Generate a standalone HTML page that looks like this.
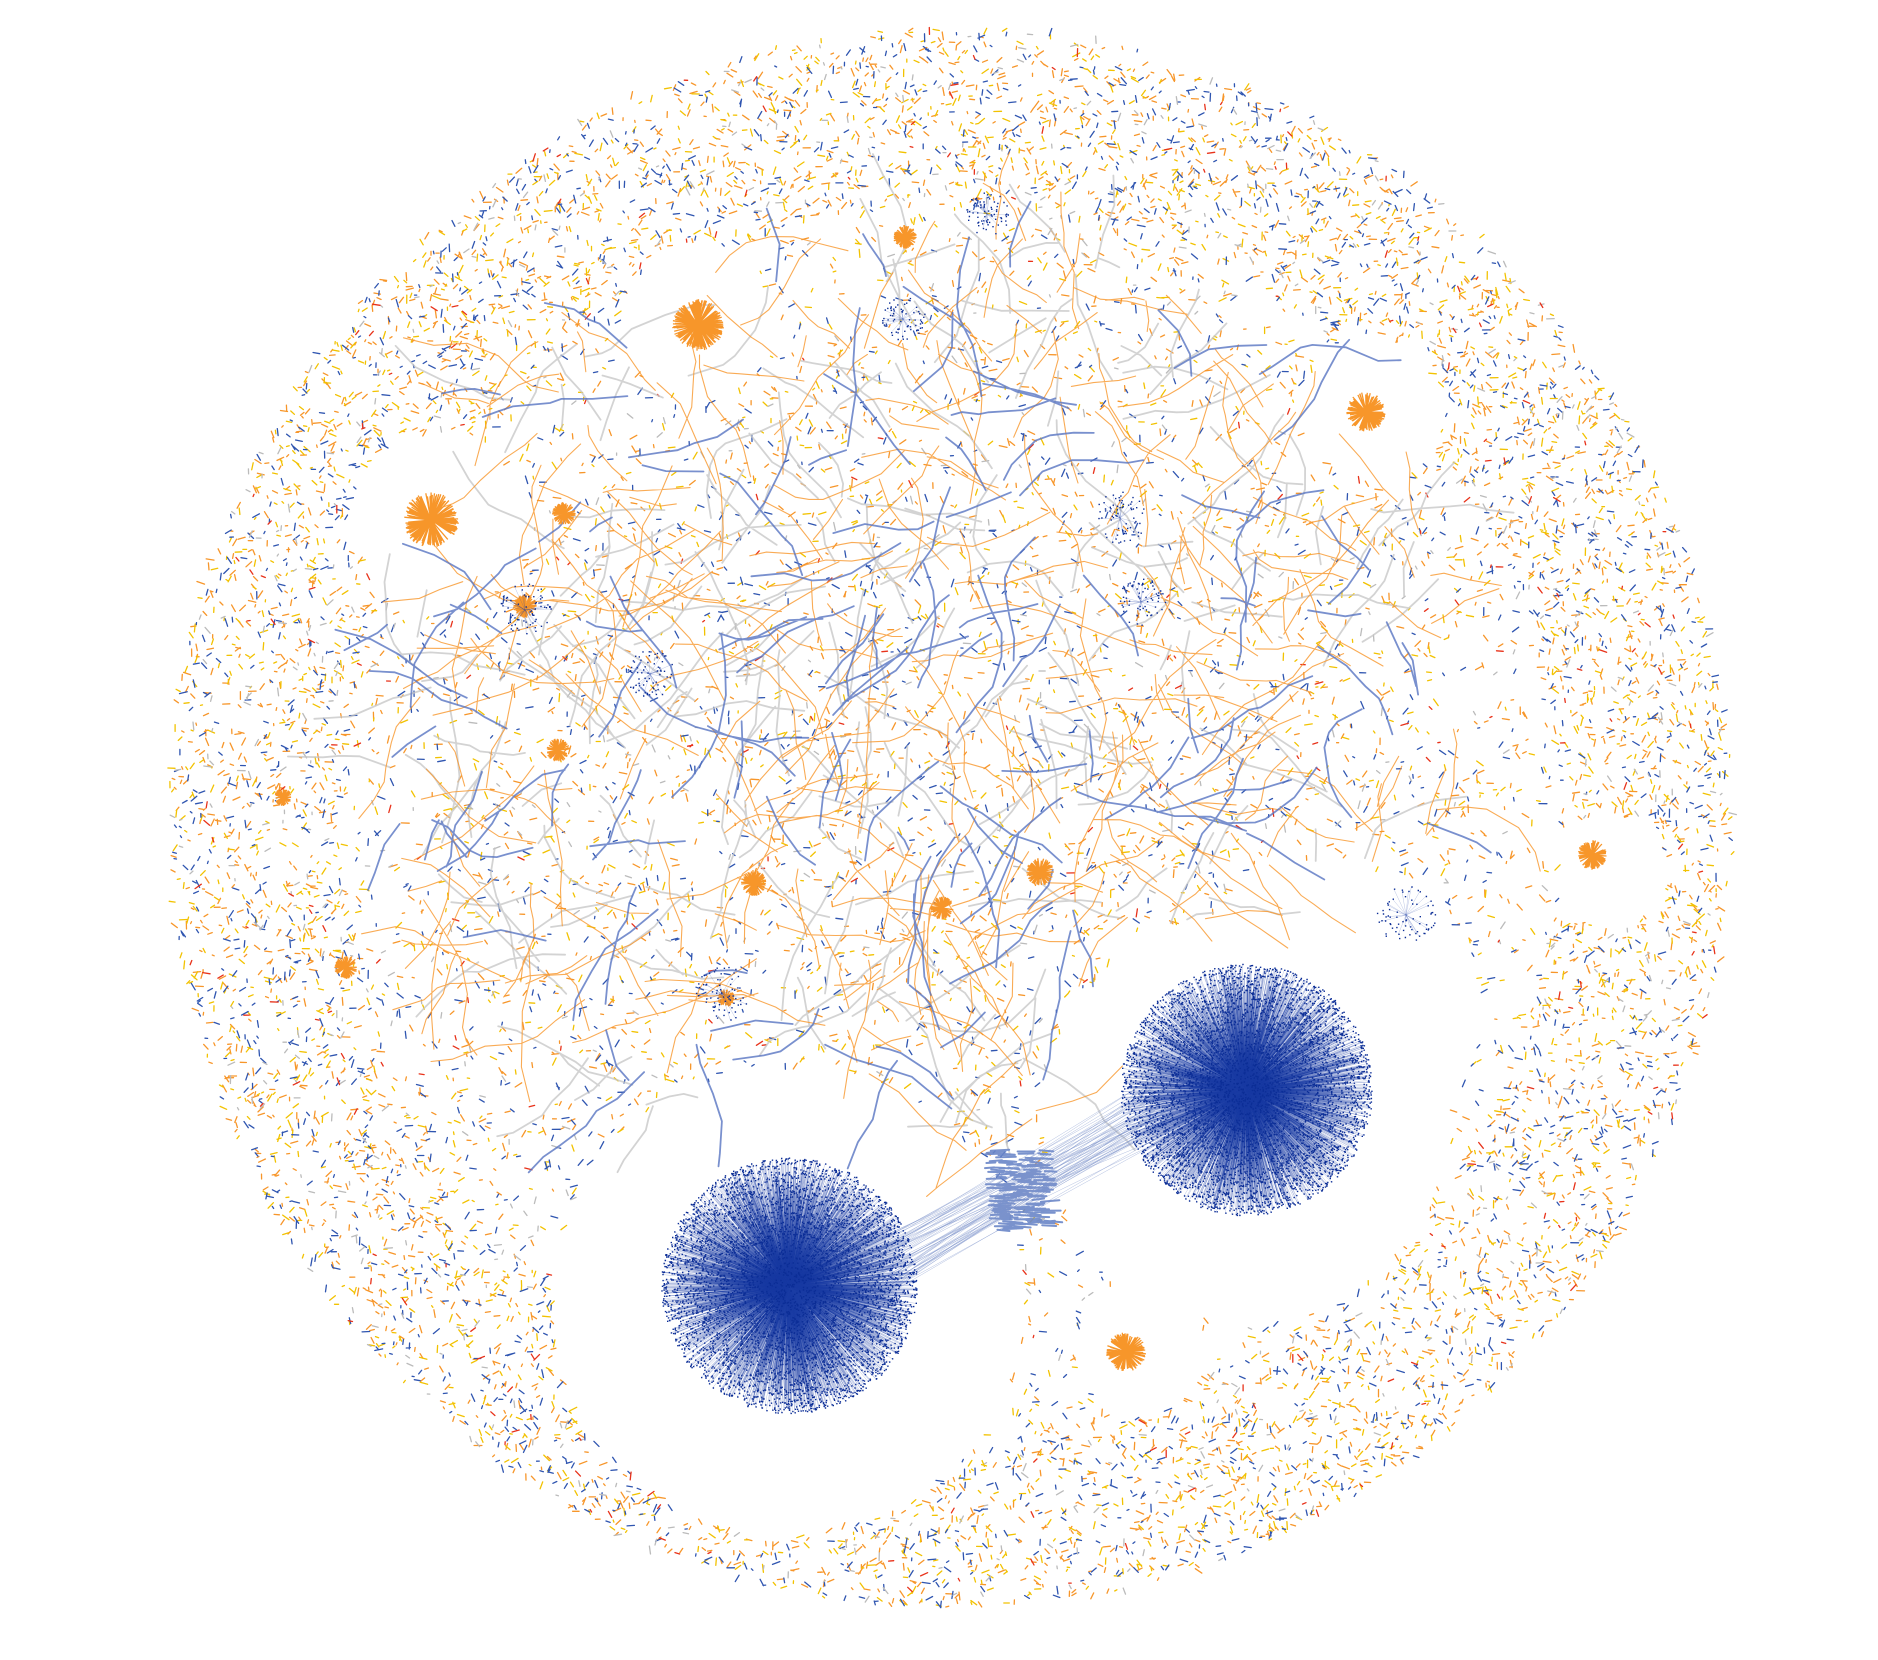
<!DOCTYPE html>
<html><head><meta charset="utf-8"><style>
html,body{margin:0;padding:0;background:#fff;}
svg{display:block;}
</style></head><body>
<svg id="net" width="1878" height="1660" viewBox="0 0 1878 1660" xmlns="http://www.w3.org/2000/svg">
<g id="bg"></g>
<g id="hubs"></g>
</svg>
<script>
// Hub data (centers, radius, kind)
const hubX = [789, 1246, 698, 431, 1366, 1126, 1592, 564, 346, 905, 525, 283, 754, 558, 1040, 942, 726, 1406, 722, 1120, 1141, 903, 987, 650, 525];
const hubY = [1286, 1090, 325, 520, 412, 1352, 855, 514, 967, 237, 606, 797, 883, 750, 872, 908, 998, 915, 994, 518, 602, 319, 214, 674, 610];
const hubR = [128, 126, 26, 28, 20, 20, 15, 12, 12, 12, 12, 9, 13, 12, 14, 12, 9, 30, 28, 26, 24, 22, 22, 24, 26];
const hubKind = ['blue','blue','orange','orange','orange','orange','orange','orange','orange','orange','orange','orange','orange','orange','orange','orange','orange','bluesmall','bluesmall','bluesmall','bluesmall','bluesmall','bluesmall','bluesmall','bluesmall'];
// White clearings (x, y, r)
const clearX = [789, 1246, 700, 440, 1375, 1140, 1610, 1330, 860];
const clearY = [1300, 1120, 320, 520, 410, 1350, 870, 1010, 1230];
const clearR = [235, 205, 75, 90, 70, 65, 55, 150, 120];

const NS = 'http://www.w3.org/2000/svg';
let seed = 12345;
function rnd(){ seed = (seed + 0x6D2B79F5) | 0; let t = Math.imul(seed ^ (seed >>> 15), 1 | seed); t = (t + Math.imul(t ^ (t >>> 7), 61 | t)) ^ t; return ((t ^ (t >>> 14)) >>> 0) / 4294967296; }
const cx = 951, cy = 819, rx = 782, ry = 790;
const bg = document.getElementById('bg');
const hubs = document.getElementById('hubs');
function inClear(x,y){
  for(let i=0;i<clearX.length;i++){const dx=x-clearX[i],dy=y-clearY[i]; if(dx*dx+dy*dy<clearR[i]*clearR[i]) return true;}
  return false;
}
let d = {o:'',y:'',b:'',g:'',r:''};
// dense texture
for(let i=0;i<22000;i++){
  const a = rnd()*Math.PI*2, t = Math.sqrt(rnd());
  const x = cx+Math.cos(a)*rx*t, y = cy+Math.sin(a)*ry*t;
  if(inClear(x,y)) continue;
  if(t<0.78 && rnd()<0.6) continue;
  const ang = rnd()*Math.PI*2, L = 2+rnd()*6;
  const c = rnd(); const k = c<0.38?'o':c<0.63?'y':c<0.9?'b':c<0.975?'g':'r';
  d[k]+='M'+x.toFixed(1)+' '+y.toFixed(1)+'l'+(Math.cos(ang)*L).toFixed(1)+' '+(Math.sin(ang)*L).toFixed(1);
}
// inner tangle
let inner = {o:'',b:'',g:''};
for(let i=0;i<750;i++){
  const a = rnd()*Math.PI*2, t = Math.sqrt(rnd())*0.7;
  let x = cx-40+Math.cos(a)*rx*t, y = cy-120+Math.sin(a)*ry*t*0.85;
  if(inClear(x,y)) continue;
  const c=rnd(); const k=c<0.5?'o':c<0.8?'g':'b';
  let ang = rnd()*Math.PI*2; let s='M'+x.toFixed(1)+' '+y.toFixed(1);
  const n = 2+Math.floor(rnd()*5);
  for(let j=0;j<n;j++){ ang+= (rnd()-0.5)*0.9; const L=10+rnd()*28; x+=Math.cos(ang)*L; y+=Math.sin(ang)*L; s+='L'+x.toFixed(1)+' '+y.toFixed(1);}
  inner[k]+=s;
}
function addPath(dd,col,w,op,name){
  const p=document.createElementNS(NS,'path');
  p.setAttribute('d',dd); p.setAttribute('stroke',col); p.setAttribute('stroke-width',w);
  p.setAttribute('fill','none'); p.setAttribute('opacity',op); p.setAttribute('stroke-linecap','round');
  
  
  bg.appendChild(p);
}
addPath(d.o,'#f7962a',1.3,1,'orange-twigs');
addPath(d.y,'#f2c200',1.3,1,'yellow-twigs');
addPath(d.b,'#2f55b0',1.3,1,'blue-twigs');
addPath(d.g,'#bbbbbb',1.3,1,'grey-twigs');
addPath(d.r,'#e8321a',1.3,1,'red-twigs');
addPath(inner.g,'#c4c4c4',1.8,0.75,'grey-edges');
addPath(inner.o,'#f7962a',1.1,0.8,'orange-edges');
addPath(inner.b,'#5774c2',1.8,0.8,'blue-edges');
// blue patch between hubs
let patch='';
for(let i=0;i<160;i++){const y=1150+rnd()*80; const x=985+rnd()*60; patch+='M'+x.toFixed(1)+' '+y.toFixed(1)+'l'+(8+rnd()*12).toFixed(1)+' '+(rnd()*3-1.5).toFixed(1);}
addPath(patch,'#6a86c8',2,0.9,'blue-patch');
// links between hubs
let links='';
for(let i=0;i<60;i++){links+='M'+(860+rnd()*30)+' '+(1240+rnd()*60)+'L'+(1140+rnd()*40)+' '+(1080+rnd()*60);}
addPath(links,'#7f95cc',0.5,0.6,'hub-links');

// hubs
for(let h=0;h<hubX.length;h++){
  const g=document.createElementNS(NS,'g');
  
  
  let s='', dots='';
  const kind=hubKind[h], R=hubR[h];
  const n = kind==='blue'?5500:kind==='bluesmall'?70:Math.round(R*6);
  for(let i=0;i<n;i++){
    const a=rnd()*Math.PI*2; const r = kind==='orange'? R*(0.8+rnd()*0.2) : R*Math.sqrt(rnd());
    const x=hubX[h]+Math.cos(a)*r, y=hubY[h]+Math.sin(a)*r;
    if(kind!=='bluesmall' || i%3===0) s+='M'+hubX[h]+' '+hubY[h]+'L'+x.toFixed(1)+' '+y.toFixed(1);
    if(kind!=='orange') dots+='M'+x.toFixed(1)+' '+y.toFixed(1)+'h1.4';
  }
  const p=document.createElementNS(NS,'path'); p.setAttribute('d',s); p.setAttribute('fill','none');
  
  
  if(kind==='orange'){p.setAttribute('stroke','#f7962a');p.setAttribute('stroke-width','1.3');}
  else {p.setAttribute('stroke','#1a3ea3');p.setAttribute('stroke-width','0.3');p.setAttribute('opacity','0.5');}
  g.appendChild(p);
  if(dots){const q=document.createElementNS(NS,'path'); q.setAttribute('d',dots); q.setAttribute('stroke','#0b2d96'); q.setAttribute('stroke-width','1.4'); q.setAttribute('fill','none');
    
    
    g.appendChild(q);}
  hubs.appendChild(g);
}
</script>
</body></html>
